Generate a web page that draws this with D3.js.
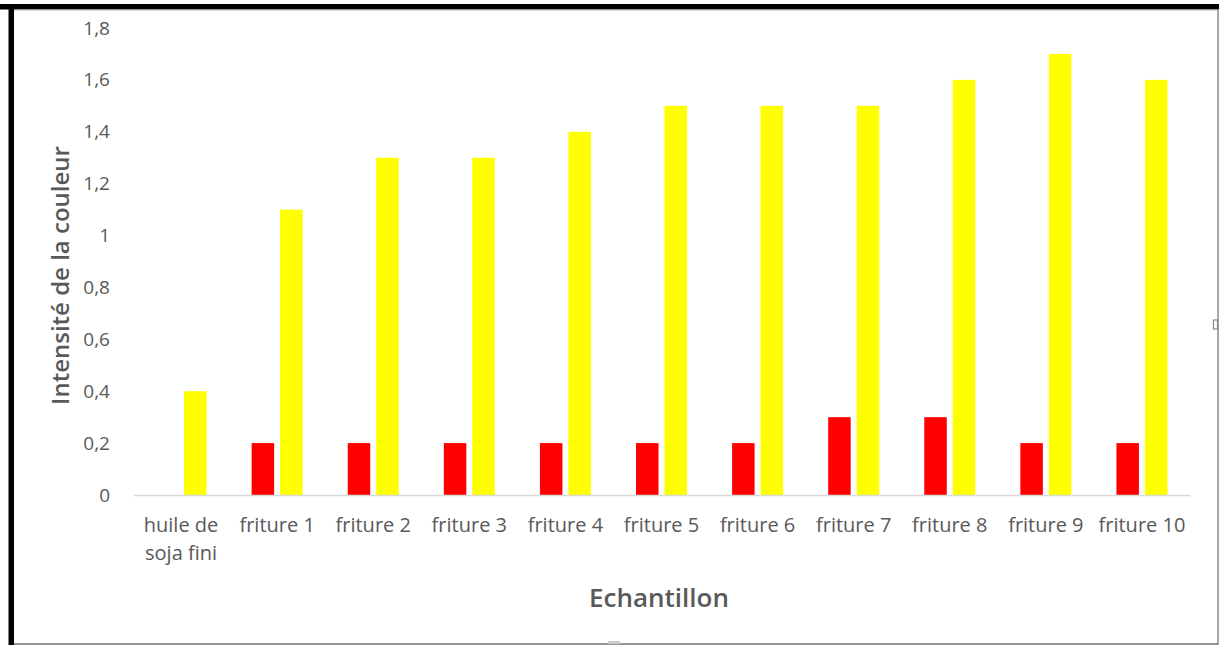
<!DOCTYPE html>
<html>
<head>
<meta charset="utf-8">
<script src="https://cdn.jsdelivr.net/npm/d3@7"></script>
<style>
  html, body { margin: 0; padding: 0; background: #fff; }
  svg { display: block; }
  text { font-family: "Open Sans", "Noto Sans", sans-serif; }
</style>
</head>
<body>
<svg id="chart" width="1219" height="645"></svg>
<script>
// Sample names (multi-line label for the first one)
const categories = ["huile de soja fini", "friture 1", "friture 2", "friture 3", "friture 4",
  "friture 5", "friture 6", "friture 7", "friture 8", "friture 9", "friture 10"];
const categoryLines = [["huile de", "soja fini"], ["friture 1"], ["friture 2"], ["friture 3"],
  ["friture 4"], ["friture 5"], ["friture 6"], ["friture 7"], ["friture 8"], ["friture 9"], ["friture 10"]];
// Colour intensity, red and yellow readings
const redValues = [0, 0.2, 0.2, 0.2, 0.2, 0.2, 0.2, 0.3, 0.3, 0.2, 0.2];
const yellowValues = [0.4, 1.1, 1.3, 1.3, 1.4, 1.5, 1.5, 1.5, 1.6, 1.7, 1.6];
const yTicks = [0, 0.2, 0.4, 0.6, 0.8, 1, 1.2, 1.4, 1.6, 1.8];
const seriesNames = ["rouge", "jaune"];
const seriesColors = ["#ff0000", "#ffff00"];

const svg = d3.select("#chart");
const W = 1219, H = 645;

// Frame around the chart
svg.append("rect").attr("x", 0).attr("y", 0).attr("width", W).attr("height", H).attr("fill", "#fff");
svg.append("line").attr("x1", 10).attr("x2", 1218).attr("y1", 644).attr("y2", 644)
  .attr("stroke", "#707070").attr("stroke-width", 1.5);
svg.append("line").attr("x1", 1218).attr("x2", 1218).attr("y1", 8).attr("y2", 645)
  .attr("stroke", "#8a8a8a").attr("stroke-width", 1.5);
svg.append("rect").attr("x", 0).attr("y", 4).attr("width", W).attr("height", 5.5).attr("fill", "#000");
svg.append("line").attr("x1", 14).attr("x2", W).attr("y1", 10).attr("y2", 10)
  .attr("stroke", "#b0b0b0").attr("stroke-width", 1);
svg.append("rect").attr("x", 8.5).attr("y", 4).attr("width", 5.5).attr("height", H).attr("fill", "#000");
// small handle marks on the frame
svg.append("rect").attr("x", 1213.5).attr("y", 320).attr("width", 4).attr("height", 9)
  .attr("fill", "none").attr("stroke", "#888").attr("stroke-width", 1.2);
svg.append("rect").attr("x", 608).attr("y", 641).attr("width", 12).attr("height", 3)
  .attr("fill", "#ccc");

const plot = { left: 133, right: 1190, top: 28, bottom: 495 };

const x = d3.scaleBand().domain(categories).range([plot.left, plot.right]).padding(0);
const y = d3.scaleLinear().domain([0, 1.8]).range([plot.bottom, plot.top]);
const barW = 22.5, innerGap = 6;
const xs = d3.scaleOrdinal().domain(seriesNames).range([-(innerGap / 2 + barW), innerGap / 2]);

const fmt = d => String(d).replace(".", ",");

// Y axis labels (no axis line, no ticks)
const yAxis = d3.axisLeft(y).tickValues(yTicks).tickFormat(fmt).tickSize(0).tickPadding(0);
const gy = svg.append("g").attr("transform", `translate(110,0)`).call(yAxis);
gy.select(".domain").remove();
gy.selectAll("text").attr("fill", "#595959").style("font-size", "19px")
  .style("font-family", "'Open Sans', sans-serif");

// Bars
const data = categories.map((c, i) => ({ c, vals: [redValues[i], yellowValues[i]] }));
const groups = svg.append("g").selectAll("g").data(data).join("g")
  .attr("transform", d => `translate(${x(d.c) + x.bandwidth() / 2},0)`);
groups.selectAll("rect")
  .data(d => d.vals.map((v, k) => ({ v, k })).filter(e => e.v > 0))
  .join("rect")
  .attr("x", e => xs(seriesNames[e.k]))
  .attr("width", barW)
  .attr("y", e => y(e.v))
  .attr("height", e => y(0) - y(e.v))
  .attr("fill", e => seriesColors[e.k]);

// Category axis line
const xAxis = d3.axisBottom(x).tickSize(0).tickFormat("");
const gx = svg.append("g").attr("transform", `translate(0,${plot.bottom})`).call(xAxis);
gx.select(".domain").attr("stroke", "#d9d9d9").attr("stroke-width", 1.5);

// Category labels
const lbl = svg.append("g").selectAll("text").data(categories).join("text")
  .attr("x", d => x(d) + x.bandwidth() / 2)
  .attr("y", 532)
  .attr("text-anchor", "middle")
  .attr("fill", "#595959")
  .style("font-size", "20px");
lbl.each(function (d, i) {
  const t = d3.select(this);
  categoryLines[i].forEach((line, j) => {
    t.append("tspan").attr("x", x(d) + x.bandwidth() / 2).attr("dy", j === 0 ? 0 : 28).text(line);
  });
});

// Axis titles
svg.append("text")
  .attr("transform", `translate(69,${(plot.top + plot.bottom) / 2 + 14}) rotate(-90)`)
  .attr("text-anchor", "middle")
  .attr("fill", "#595959")
  .style("font-size", "24px")
  .style("font-weight", "600")
  .text("Intensité de la couleur");

svg.append("text")
  .attr("x", 659).attr("y", 607)
  .attr("text-anchor", "middle")
  .attr("fill", "#595959")
  .style("font-size", "26px")
  .style("font-weight", "600")
  .text("Echantillon");
</script>
</body>
</html>
